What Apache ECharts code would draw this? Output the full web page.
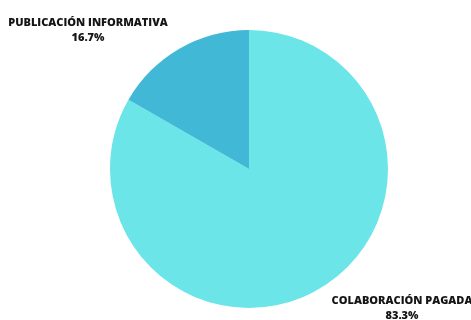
<!DOCTYPE html>
<html>
<head>
<meta charset="utf-8">
<script src="https://cdn.jsdelivr.net/npm/echarts@6/dist/echarts.min.js"></script>
<style>
  html, body { margin: 0; padding: 0; background: #fff; }
  #chart { width: 471px; height: 320px; }
</style>
</head>
<body>
<div id="chart"></div>
<script>
const categories = ["COLABORACIÓN PAGADA", "PUBLICACIÓN INFORMATIVA"];
const values = [83.3, 16.7];
const colors = ["#6ce5e8", "#41b8d5"];

// label anchor points (centre of the text block)
const labelSpots = [
  { x: 402, y: 308 },
  { x: 88, y: 30 }
];

const chart = echarts.init(document.getElementById("chart"));
chart.setOption({
  backgroundColor: "#ffffff",
  animation: false,
  series: [
    {
      type: "pie",
      center: [249, 169],
      radius: 139,
      startAngle: 90,
      clockwise: true,
      data: categories.map((name, i) => ({
        name,
        value: values[i],
        itemStyle: { color: colors[i] }
      })),
      label: {
        show: true,
        position: "outside",
        formatter: (p) => `${p.name}\n${p.value.toFixed(1)}%`,
        fontFamily: "Open Sans",
        fontWeight: 800,
        fontSize: 11,
        lineHeight: 15,
        color: "#151515",
        align: "center",
        width: 240,
        overflow: "none"
      },
      labelLine: { show: false },
      labelLayout: (params) => ({
        x: labelSpots[params.dataIndex].x,
        y: labelSpots[params.dataIndex].y,
        align: "center",
        verticalAlign: "middle"
      }),
      emphasis: { disabled: true }
    }
  ]
});
</script>
</body>
</html>
